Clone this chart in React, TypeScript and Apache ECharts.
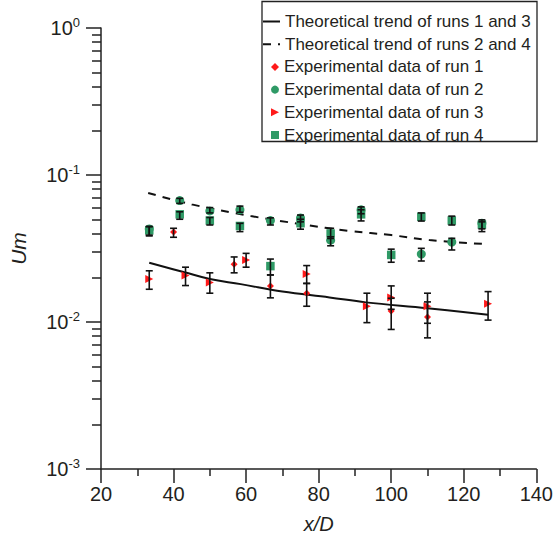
import React, { useEffect, useRef } from "react";
import * as echarts from "echarts";

const FONT = "'Liberation Sans', Arial, Helvetica, sans-serif";
const TEXT = "#231f20";
const AXIS = "#222222";
const RED = "#ff1a1a";
const GREEN = "#2f9a66";

// Axis ranges / ticks
const xMin = 20;
const xMax = 140;
const xStep = 20;
const yMin = 0.001;
const yMax = 1;

// Theoretical trend, runs 1 and 3 (solid)
const trend13X = [33.3, 43, 50, 58.5, 70, 83, 93, 110, 126.7];
const trend13Y = [0.0253, 0.0218, 0.0196, 0.0181, 0.0161, 0.0147, 0.0136, 0.0124, 0.0112];

// Theoretical trend, runs 2 and 4 (dashed)
const trend24X = [33, 45, 61.3, 75, 88.6, 100, 110.5, 125];
const trend24Y = [0.0755, 0.0631, 0.0526, 0.0464, 0.0416, 0.039, 0.0361, 0.034];

// Run 1 (red diamonds)
const run1X = [40, 56.7, 66.7, 76.7, 100, 110];
const run1Y = [0.041, 0.0247, 0.0176, 0.0157, 0.0119, 0.0108];
const run1Lo = [0.0377, 0.0216, 0.0146, 0.0128, 0.0089, 0.0078];
const run1Hi = [0.0434, 0.0277, 0.0209, 0.0183, 0.0145, 0.0137];

// Run 2 (green circles)
const run2X = [33.3, 41.7, 50, 58.3, 66.7, 75, 83.3, 91.7, 108.3, 116.7, 125];
const run2Y = [0.043, 0.067, 0.057, 0.058, 0.049, 0.051, 0.036, 0.058, 0.029, 0.035, 0.047];
const run2Lo = [0.0385, 0.0641, 0.0552, 0.0558, 0.0457, 0.048, 0.033, 0.0545, 0.026, 0.0309, 0.043];
const run2Hi = [0.0447, 0.0694, 0.06, 0.0614, 0.0511, 0.0534, 0.038, 0.0607, 0.0317, 0.0371, 0.0495];

// Run 3 (red right-pointing triangles)
const run3X = [33.3, 43.3, 50, 60, 76.7, 93.3, 100, 110, 126.7];
const run3Y = [0.0196, 0.0207, 0.0186, 0.0264, 0.0212, 0.0128, 0.0147, 0.0128, 0.0133];
const run3Lo = [0.0167, 0.0177, 0.0157, 0.0236, 0.0183, 0.0099, 0.0122, 0.0098, 0.0103];
const run3Hi = [0.0223, 0.0236, 0.0216, 0.0293, 0.0242, 0.0157, 0.0176, 0.0157, 0.0161];

// Run 4 (green squares)
const run4X = [33.3, 41.7, 50, 58.3, 66.7, 75, 83.3, 91.7, 100, 108.3, 116.7, 125];
const run4Y = [0.042, 0.054, 0.049, 0.045, 0.024, 0.047, 0.04, 0.054, 0.0286, 0.052, 0.049, 0.046];
const run4Lo = [0.039, 0.05, 0.0457, 0.0412, 0.0209, 0.0428, 0.037, 0.0487, 0.0255, 0.0486, 0.0457, 0.0412];
const run4Hi = [0.0445, 0.0562, 0.0514, 0.0469, 0.0268, 0.05, 0.0434, 0.058, 0.0313, 0.0552, 0.0525, 0.048];

const NAME_T13 = "Theoretical trend of runs 1 and 3";
const NAME_T24 = "Theoretical trend of runs 2 and 4";
const NAME_R1 = "Experimental data of run 1";
const NAME_R2 = "Experimental data of run 2";
const NAME_R3 = "Experimental data of run 3";
const NAME_R4 = "Experimental data of run 4";

const TRIANGLE_RIGHT = "path://M0,0L10,5L0,10Z";

const pairs = (xs: number[], ys: number[]) => xs.map((x, i) => [x, ys[i]]);
const bars = (xs: number[], lo: number[], hi: number[]) => xs.map((x, i) => [x, lo[i], hi[i]]);

const renderErr = (_params: any, api: any) => {
  const x = api.value(0);
  const a = api.coord([x, api.value(1)]);
  const b = api.coord([x, api.value(2)]);
  const cap = 3.5;
  const style = { stroke: "#111111", lineWidth: 1.6 };
  return {
    type: "group",
    children: [
      { type: "line", shape: { x1: a[0], y1: a[1], x2: b[0], y2: b[1] }, style },
      { type: "line", shape: { x1: a[0] - cap, y1: a[1], x2: a[0] + cap, y2: a[1] }, style },
      { type: "line", shape: { x1: b[0] - cap, y1: b[1], x2: b[0] + cap, y2: b[1] }, style },
    ],
  };
};

const errSeries = (data: number[][]) => ({
  type: "custom",
  renderItem: renderErr,
  data,
  encode: { x: 0, y: [1, 2] },
  silent: true,
  z: 4,
});

export default function App() {
  const ref = useRef<HTMLDivElement>(null);

  useEffect(() => {
    if (!ref.current) return;
    const chart = echarts.init(ref.current, undefined, { renderer: "svg" });

    const legendText = { fontSize: 17, lineHeight: 17, color: TEXT, fontFamily: FONT };

    const option: any = {
      animation: false,
      grid: { left: 99, right: 18, top: 28, bottom: 72 },
      xAxis: {
        type: "value",
        min: xMin,
        max: xMax,
        interval: xStep,
        name: "x/D",
        nameLocation: "middle",
        nameGap: 45,
        nameTextStyle: { fontSize: 20, fontStyle: "italic", color: TEXT, fontFamily: FONT },
        axisLine: { show: true, onZero: false, lineStyle: { color: AXIS, width: 1.5 } },
        axisTick: { show: true, inside: false, length: 14, lineStyle: { color: AXIS, width: 1.5 } },
        minorTick: { show: true, splitNumber: 2, length: 7, lineStyle: { color: AXIS, width: 1.5 } },
        axisLabel: { fontSize: 20, color: TEXT, fontFamily: FONT, margin: 15 },
        splitLine: { show: false },
        minorSplitLine: { show: false },
      },
      yAxis: {
        type: "log",
        logBase: 10,
        min: yMin,
        max: yMax,
        name: "Um",
        nameLocation: "middle",
        nameGap: 72,
        nameTextStyle: { fontSize: 21, fontStyle: "italic", color: TEXT, fontFamily: FONT },
        axisLine: { show: true, onZero: false, lineStyle: { color: AXIS, width: 1.5 } },
        axisTick: { show: true, inside: false, length: 15, lineStyle: { color: AXIS, width: 1.5 } },
        minorTick: { show: true, splitNumber: 9, length: 9, lineStyle: { color: AXIS, width: 1.5 } },
        axisLabel: {
          margin: 21,
          color: TEXT,
          fontFamily: FONT,
          formatter: (v: number) => `{a|10}{b|${Math.round(Math.log10(v))}}`,
          rich: {
            a: { fontSize: 20, lineHeight: 20, color: TEXT, fontFamily: FONT, verticalAlign: "bottom" },
            b: { fontSize: 13, lineHeight: 13, color: TEXT, fontFamily: FONT, verticalAlign: "bottom", padding: [0, 0, 9, 0] },
          },
        },
        splitLine: { show: false },
        minorSplitLine: { show: false },
      },
      legend: [
        {
          data: [NAME_T13, NAME_T24],
          orient: "vertical",
          left: 262,
          top: 13,
          padding: 0,
          itemWidth: 17,
          itemHeight: 12,
          itemGap: 5.7,
          selectedMode: false,
          itemStyle: { opacity: 0 },
          textStyle: legendText,
        },
        {
          data: [
            { name: NAME_R1 },
            { name: NAME_R2 },
            { name: NAME_R3, icon: TRIANGLE_RIGHT },
            { name: NAME_R4 },
          ],
          orient: "vertical",
          left: 271,
          top: 13 + 2 * 22.7,
          padding: 0,
          itemWidth: 8,
          itemHeight: 8,
          itemGap: 5.7,
          selectedMode: false,
          textStyle: legendText,
        },
      ],
      graphic: [
        {
          type: "rect",
          shape: { x: 262, y: 1.5, width: 275, height: 140 },
          style: { fill: "none", stroke: AXIS, lineWidth: 1.3 },
          z: 10,
        },
      ],
      series: [
        {
          name: NAME_T13,
          type: "line",
          data: pairs(trend13X, trend13Y),
          smooth: 0.4,
          symbol: "none",
          lineStyle: { color: "#111111", width: 2, type: "solid" },
          itemStyle: { color: "#111111" },
          z: 3,
        },
        {
          name: NAME_T24,
          type: "line",
          data: pairs(trend24X, trend24Y),
          smooth: 0.4,
          symbol: "none",
          lineStyle: { color: "#111111", width: 2, type: [8, 7] },
          itemStyle: { color: "#111111" },
          z: 3,
        },
        {
          name: NAME_R1,
          type: "scatter",
          data: pairs(run1X, run1Y),
          symbol: "diamond",
          symbolSize: 7,
          itemStyle: { color: RED, opacity: 1 },
          z: 3,
        },
        {
          name: NAME_R2,
          type: "scatter",
          data: pairs(run2X, run2Y),
          symbol: "circle",
          symbolSize: 9,
          itemStyle: { color: GREEN, opacity: 1 },
          z: 3,
        },
        {
          name: NAME_R3,
          type: "scatter",
          data: pairs(run3X, run3Y),
          symbol: "triangle",
          symbolRotate: -90,
          symbolSize: 8,
          itemStyle: { color: RED, opacity: 1 },
          z: 3,
        },
        {
          name: NAME_R4,
          type: "scatter",
          data: pairs(run4X, run4Y),
          symbol: "rect",
          symbolSize: 8.5,
          itemStyle: { color: GREEN, opacity: 1 },
          z: 3,
        },
        errSeries(bars(run1X, run1Lo, run1Hi)),
        errSeries(bars(run2X, run2Lo, run2Hi)),
        errSeries(bars(run3X, run3Lo, run3Hi)),
        errSeries(bars(run4X, run4Lo, run4Hi)),
      ],
    };

    chart.setOption(option);
    return () => chart.dispose();
  }, []);

  return <div ref={ref} style={{ position: "fixed", left: 0, top: 0, width: 556, height: 541, background: "#fff" }} />;
}
